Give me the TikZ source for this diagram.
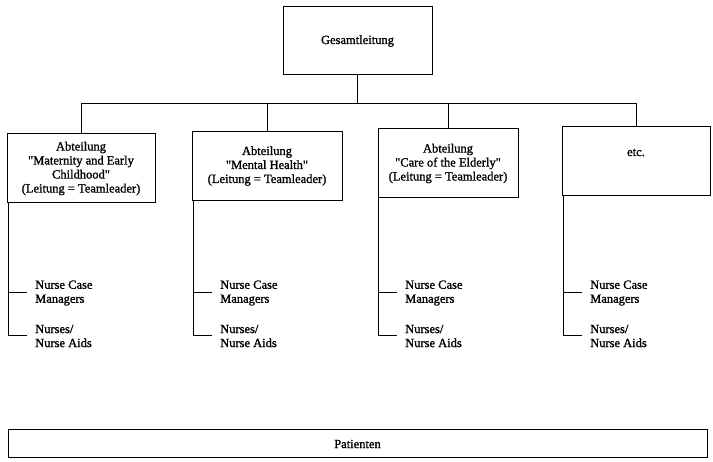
\documentclass[tikz,border=0pt]{standalone}
\usepackage{fontspec}
\setmainfont{Liberation Serif}[BoldFont=Liberation Serif,BoldFeatures={FakeBold=1.3}]
\usetikzlibrary{positioning,calc}
\tikzset{
  org line/.style={line width=1pt},
  unit box/.style={draw,org line,align=center,inner sep=2pt,minimum height=69pt},
  staff/.style={align=left,inner sep=0pt,anchor=west}
}

\begin{document}
\begin{tikzpicture}[x=1pt,y=-1pt,font=\fontsize{12.5}{14}\selectfont\bfseries]
  \useasboundingbox (0,0) rectangle (713,462);

  % Leitung und Abteilungen
  \node[unit box,minimum width=149pt,minimum height=68pt] (lead) at (357.5,41) {Gesamtleitung};
  \node[unit box,minimum width=148pt] (dept1) at (81,168.5)
    {Abteilung\\\textquotedbl Maternity and Early\\Childhood\textquotedbl\\(Leitung = Teamleader)};
  \node[unit box,minimum width=150pt] (dept2) at (267,166)
    {Abteilung\\\textquotedbl Mental Health\textquotedbl\\(Leitung = Teamleader)};
  \node[unit box,minimum width=140pt] (dept3) at (448,163.5)
    {Abteilung\\\textquotedbl Care of the Elderly\textquotedbl\\(Leitung = Teamleader)};
  \node[unit box,minimum width=148pt,text depth=18pt] (dept4) at (636,161.5) {etc.};

  \coordinate (bus) at ($(lead.south)+(0,28)$);
  \draw[org line] (lead.south) -- (bus);
  \draw[org line] (dept1.north) |- (dept4.north |- bus) -- (dept4.north);
  \foreach \d in {dept2,dept3}
    \draw[org line] (\d.north) -- (\d.north |- bus);

  % Mitarbeiter je Abteilung
  \foreach \d/\sx in {1/8,2/193,3/378,4/563}{
    \node[staff] (case\d) at (\sx+27,293) {Nurse Case\\Managers};
    \node[staff] (aid\d) at (\sx+27,336) {Nurses/\\Nurse Aids};
    \draw[org line] (dept\d.south -| \sx,0) |- ([xshift=-8pt]aid\d.west);
    \draw[org line] (case\d.west -| \sx,0) -- ([xshift=-8pt]case\d.west);
  }

  \node[draw,org line,minimum width=699pt,minimum height=28pt] (patients) at (357.5,444) {Patienten};
\end{tikzpicture}
\end{document}
